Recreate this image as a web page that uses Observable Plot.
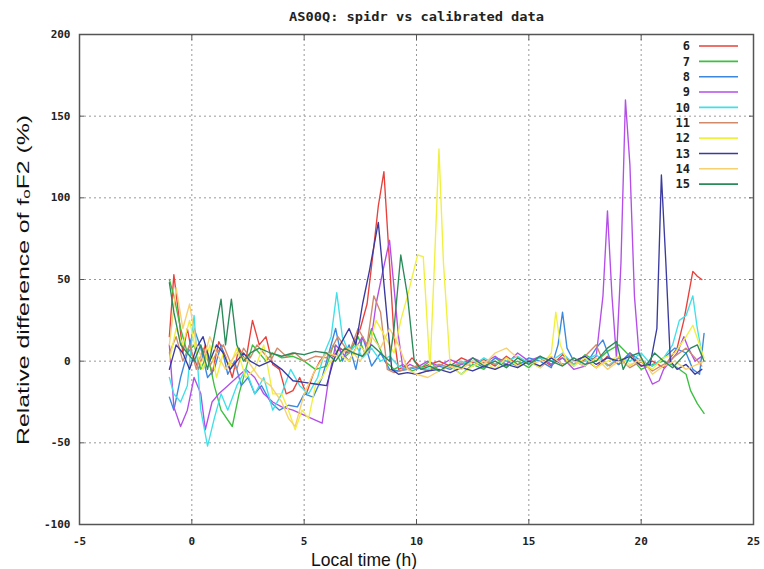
<!DOCTYPE html>
<html>
<head>
<meta charset="utf-8">
<script src="https://cdn.jsdelivr.net/npm/d3@7"></script>
<script src="https://cdn.jsdelivr.net/npm/@observablehq/plot@0.6"></script>
<style>
  html, body { margin: 0; padding: 0; background: #fff; }
  #chart svg { display: block; }
</style>
</head>
<body>
<div id="chart"></div>
<script>
const title = "AS00Q: spidr vs calibrated data";
const xLabel = "Local time (h)";
const yLabel = "Relative difference of fₒF2 (%)";
const xTicks = [-5, 0, 5, 10, 15, 20, 25];
const yTicks = [-100, -50, 0, 50, 100, 150, 200];
const xGrid = [0, 5, 10, 15, 20];
const yGrid = [-50, 0, 50, 100, 150];
const seriesNames = ["6", "7", "8", "9", "10", "11", "12", "13", "14", "15"];
const seriesColors = ["#e8403a", "#3cc040", "#3a88e0", "#b44ee8", "#40e0e8", "#d08a6a", "#f0f040", "#3a3aa0", "#f8d070", "#2a8a5a"];

// [local time, relative difference]
const s6 = [[-1.0,15],[-0.8,53],[-0.6,30],[-0.4,5],[-0.2,20],[0,5],[0.3,-5],[0.6,10],[0.9,-8],[1.2,12],[1.5,3],[1.8,-10],[2.1,8],[2.4,0],[2.7,25],[3.0,10],[3.3,15],[3.6,-2],[3.9,-5],[4.2,-20],[4.5,-18],[4.8,-10],[5.1,-20],[5.4,-8],[5.7,0],[6.0,5],[6.3,3],[6.6,8],[6.9,5],[7.2,10],[7.5,20],[7.8,35],[8.1,70],[8.3,95],[8.55,116],[8.8,60],[9.0,15],[9.2,-5],[9.5,-3],[9.8,2],[10.2,-4],[10.6,-2],[11,0],[11.5,-3],[12,2],[12.5,-1],[13,1],[13.5,-3],[14,3],[14.5,-2],[15,0],[15.5,2],[16,-3],[16.5,4],[17,-2],[17.5,1],[18,-4],[18.5,3],[19,-2],[19.5,5],[20,-3],[20.5,0],[21,-4],[21.3,2],[21.6,8],[21.9,25],[22.1,40],[22.3,55],[22.5,52],[22.7,50]];
const s7 = [[-1.0,50],[-0.8,40],[-0.5,20],[-0.2,5],[0.1,10],[0.4,-5],[0.7,5],[1.0,-15],[1.3,-30],[1.8,-40],[2.1,-20],[2.4,-5],[2.7,10],[3.0,5],[3.3,0],[3.6,5],[4,2],[4.5,3],[5,0],[5.5,-5],[6,-3],[6.3,10],[6.6,0],[7,5],[7.4,15],[7.7,5],[8,20],[8.3,10],[8.6,0],[9,-5],[9.4,-2],[9.8,-6],[10.2,-4],[10.6,0],[11,-6],[11.5,-3],[12,-8],[12.5,-2],[13,-5],[13.5,2],[14,-3],[14.5,0],[15,-4],[15.5,3],[16,-2],[16.5,2],[17,-3],[17.5,4],[18,0],[18.5,6],[19,10],[19.5,3],[20,-5],[20.5,-2],[21,0],[21.5,-3],[22,-8],[22.2,-18],[22.5,-26],[22.8,-32]];
const s8 = [[-1.0,-22],[-0.8,-30],[-0.5,-10],[-0.2,5],[0.1,20],[0.4,8],[0.7,-10],[1.0,-5],[1.3,10],[1.6,-8],[1.9,0],[2.2,-15],[2.5,-10],[2.8,-20],[3.1,-15],[3.5,-25],[3.9,-30],[4.3,-27],[4.7,-28],[5.0,-20],[5.4,-22],[5.8,-10],[6.1,5],[6.4,20],[6.7,0],[7.0,10],[7.3,-5],[7.6,15],[8.0,-3],[8.4,5],[8.8,-5],[9.2,-6],[9.6,-5],[10,-4],[10.5,-6],[11,-3],[11.5,-5],[12,-2],[12.5,0],[13,-4],[13.5,2],[14,0],[14.5,-3],[15,2],[15.5,0],[16,-4],[16.3,10],[16.5,30],[16.7,8],[17,0],[17.5,-3],[18,8],[18.3,13],[18.6,2],[19,-2],[19.5,5],[20,0],[20.5,-3],[21,2],[21.5,8],[22,5],[22.3,-5],[22.6,-8],[22.8,17]];
const s9 = [[-1.0,10],[-0.8,-28],[-0.5,-40],[-0.2,-30],[0.1,-10],[0.4,-20],[0.6,-42],[0.9,-25],[1.2,-20],[1.6,-15],[2.0,-10],[2.4,-5],[2.8,-10],[3.2,-20],[3.6,-25],[4.0,-28],[4.5,-30],[5.0,-33],[5.8,-38],[6.1,-10],[6.4,10],[6.7,5],[7.0,0],[7.3,8],[7.6,15],[7.9,5],[8.2,35],[8.5,55],[8.8,74],[9.0,45],[9.2,15],[9.4,-5],[9.7,-2],[10,-4],[10.5,0],[11,-3],[11.5,1],[12,-2],[12.5,2],[13,-1],[13.5,3],[14,-2],[14.5,5],[15,0],[15.5,3],[16,-2],[16.5,2],[17,-5],[17.5,-3],[18,3],[18.3,40],[18.5,92],[18.7,40],[18.9,2],[19.1,60],[19.3,160],[19.5,120],[19.7,40],[19.9,5],[20.2,-5],[20.5,-14],[20.8,-12],[21,-5],[21.3,0],[21.6,5],[21.9,15],[22.1,8],[22.4,0],[22.7,3]];
const s10 = [[-1.0,-10],[-0.8,-20],[-0.5,-25],[-0.2,-15],[0.1,28],[0.4,-30],[0.7,-52],[1.0,-35],[1.3,-20],[1.6,-30],[2.0,-15],[2.4,-5],[2.8,-20],[3.2,-10],[3.6,-30],[4.0,-20],[4.4,-5],[4.8,-15],[5.2,-20],[5.6,-10],[5.9,5],[6.2,15],[6.45,42],[6.7,15],[7.0,5],[7.3,10],[7.6,2],[8.0,8],[8.4,0],[8.8,3],[9.2,-3],[9.6,-5],[10,-3],[10.5,-5],[11,-2],[11.5,-4],[12,0],[12.5,-3],[13,2],[13.5,-2],[14,0],[14.5,3],[15,-1],[15.5,2],[16,0],[16.5,5],[17,-2],[17.5,0],[18,4],[18.5,-3],[19,2],[19.5,0],[20,5],[20.5,-3],[21,2],[21.4,10],[21.7,25],[22.0,28],[22.3,40],[22.5,20],[22.7,5]];
const s11 = [[-1.0,5],[-0.7,15],[-0.4,0],[-0.1,10],[0.2,-5],[0.5,8],[0.8,-3],[1.1,5],[1.4,10],[1.7,0],[2.0,-5],[2.3,8],[2.6,2],[2.9,10],[3.2,5],[3.5,0],[3.8,8],[4.2,3],[4.6,5],[5.0,0],[5.5,3],[6.0,2],[6.5,15],[7.0,5],[7.4,20],[7.8,10],[8.1,40],[8.4,30],[8.7,-5],[9.0,-7],[9.5,-5],[10,-3],[10.5,-6],[11,-2],[11.5,-4],[12,-1],[12.5,-3],[13,0],[13.5,-2],[14,2],[14.5,-3],[15,0],[15.5,-4],[16,2],[16.5,-2],[17,0],[17.5,3],[18,10],[18.3,0],[18.6,-3],[19,2],[19.5,-4],[20,0],[20.5,-6],[21,-2],[21.5,3],[22,8],[22.4,2],[22.7,-3]];
const s12 = [[-1.0,0],[-0.7,20],[-0.4,10],[-0.1,25],[0.2,5],[0.5,-5],[0.8,10],[1.1,-10],[1.4,5],[1.7,-3],[2.0,8],[2.4,-10],[2.8,-5],[3.2,10],[3.6,-20],[4.0,-20],[4.3,-30],[4.6,-42],[4.9,-30],[5.2,-35],[5.5,-15],[5.8,-10],[6.1,-2],[6.5,5],[7.0,0],[7.4,10],[7.8,5],[8.2,25],[8.6,15],[9.0,5],[9.3,25],[9.6,40],[10.05,65],[10.3,64],[10.6,-5],[10.8,60],[11.0,130],[11.2,60],[11.5,-3],[12,-8],[12.5,-3],[13,0],[13.5,-5],[14,2],[14.5,-3],[15,0],[15.5,-4],[16,5],[16.2,30],[16.4,10],[16.7,0],[17,-3],[17.5,2],[18,-4],[18.5,0],[19,3],[19.5,-2],[20,0],[20.5,-5],[21,2],[21.5,5],[22,15],[22.3,22],[22.6,10],[22.8,2]];
const s13 = [[-1.0,-5],[-0.7,10],[-0.4,5],[-0.1,-5],[0.2,8],[0.5,15],[0.8,0],[1.1,10],[1.4,5],[1.7,-5],[2.0,0],[2.3,5],[2.6,0],[3.0,-3],[3.5,0],[4.0,-5],[4.5,-12],[5.0,-13],[5.5,-14],[6.0,-15],[6.3,0],[6.6,10],[7.0,20],[7.3,10],[7.6,35],[7.9,55],[8.3,85],[8.6,40],[8.9,-5],[9.2,-8],[9.6,-7],[10,-8],[10.5,-6],[11,-5],[11.5,-7],[12,-4],[12.5,-6],[13,-3],[13.5,-5],[14,-2],[14.5,-4],[15,0],[15.5,-3],[16,2],[16.5,-2],[17,0],[17.5,3],[18,-2],[18.5,2],[19,0],[19.5,3],[20,-3],[20.4,-2],[20.7,20],[20.9,114],[21.1,60],[21.3,0],[21.6,-5],[22,-2],[22.4,-8],[22.7,-5]];
const s14 = [[-1.0,10],[-0.7,45],[-0.4,20],[-0.1,35],[0.2,10],[0.5,0],[0.8,15],[1.1,5],[1.5,-5],[2.0,5],[2.5,0],[3.0,-10],[3.5,-15],[4.0,-25],[4.3,-35],[4.6,-40],[5.0,-20],[5.5,-5],[6.0,5],[6.5,3],[7.0,8],[7.5,0],[8.0,15],[8.4,8],[8.8,20],[9.2,10],[9.6,-5],[10,-8],[10.5,-10],[11,-6],[11.5,-3],[12,-5],[12.5,0],[13,-2],[13.5,5],[14,8],[14.5,2],[15,-2],[15.5,0],[16,3],[16.5,-2],[17,0],[17.5,-3],[18,2],[18.5,-5],[19,0],[19.5,-3],[20,2],[20.5,-8],[21,-3],[21.5,0],[22,-5],[22.5,-2],[22.8,0]];
const s15 = [[-1.0,48],[-0.8,30],[-0.5,10],[-0.2,5],[0.1,0],[0.4,10],[0.7,-5],[1.0,15],[1.3,38],[1.5,10],[1.76,38],[2.0,10],[2.3,0],[2.6,5],[3.0,8],[3.5,5],[4.0,3],[4.5,5],[5.0,4],[5.5,6],[6.0,5],[6.4,0],[6.8,8],[7.2,5],[7.6,3],[8.0,10],[8.4,5],[8.8,0],[9.0,20],[9.3,65],[9.6,40],[9.9,0],[10.2,-5],[10.6,-3],[11,-6],[11.5,-2],[12,-4],[12.5,2],[13,-3],[13.5,0],[14,-4],[14.5,2],[15,-2],[15.5,3],[16,0],[16.5,-3],[17,2],[17.5,-2],[18,0],[18.5,8],[18.9,12],[19.2,-5],[19.5,3],[19.9,5],[20.2,-3],[20.6,5],[21,0],[21.4,-4],[21.8,2],[22.2,8],[22.5,10],[22.8,0]];

const allSeries = [s6, s7, s8, s9, s10, s11, s12, s13, s14, s15];
const data = allSeries.flatMap((arr, i) => arr.map(([t, v]) => ({s: seriesNames[i], t, v})));

const chart = Plot.plot({
  width: 764,
  height: 569,
  marginLeft: 79,
  marginRight: 11,
  marginTop: 34,
  marginBottom: 45,
  style: {fontFamily: "DejaVu Sans Mono", fontSize: "11px", fontWeight: "bold", color: "#222", background: "#fff"},
  x: {domain: [-5, 25], label: null},
  y: {domain: [-100, 200], label: null},
  color: {domain: seriesNames, range: seriesColors},
  marks: [
    Plot.ruleX(xGrid, {stroke: "#999", strokeDasharray: "2,3", strokeWidth: 1}),
    Plot.ruleY(yGrid, {stroke: "#999", strokeDasharray: "2,3", strokeWidth: 1}),
    Plot.axisX(xTicks, {anchor: "bottom", tickSize: 0, tickPadding: 13, tickFormat: d => String(d), fill: "#222"}),
    Plot.axisY(yTicks, {anchor: "left", tickSize: 0, tickPadding: 9, tickFormat: d => String(d), fill: "#222"}),
    Plot.axisX(xTicks, {anchor: "bottom", tickSize: -5, tickFormat: () => "", stroke: "#555"}),
    Plot.axisX(xTicks, {anchor: "top", tickSize: -5, tickFormat: () => "", stroke: "#555"}),
    Plot.axisY(yTicks, {anchor: "left", tickSize: -5, tickFormat: () => "", stroke: "#555"}),
    Plot.axisY(yTicks, {anchor: "right", tickSize: -5, tickFormat: () => "", stroke: "#555"}),
    Plot.line(data, {x: "t", y: "v", z: "s", stroke: "s", strokeWidth: 1.35}),
    Plot.frame({stroke: "#555", strokeWidth: 1.5}),
    Plot.text([title], {frameAnchor: "top", dy: -22, fontSize: 12, fontWeight: "bold", fontFamily: "DejaVu Sans Mono", fill: "#222"})
  ]
});
document.getElementById("chart").appendChild(chart);

const svg = d3.select(chart);
// stretch title to reference width
svg.selectAll("text").filter(function() { return this.textContent === title; })
  .attr("textLength", 255).attr("lengthAdjust", "spacingAndGlyphs");

// axis labels
svg.append("text")
  .attr("x", 364).attr("y", 566)
  .attr("text-anchor", "middle")
  .attr("font-family", "Liberation Sans, Arial, sans-serif")
  .attr("font-size", 19).attr("font-weight", "normal")
  .attr("fill", "#111")
  .attr("textLength", 106).attr("lengthAdjust", "spacingAndGlyphs")
  .text(xLabel);

svg.append("text")
  .attr("transform", "translate(29,280) rotate(-90) scale(1,0.78)")
  .attr("text-anchor", "middle")
  .attr("font-family", "Liberation Sans, Arial, sans-serif")
  .attr("font-size", 20).attr("font-weight", "normal")
  .attr("fill", "#111")
  .attr("textLength", 330).attr("lengthAdjust", "spacingAndGlyphs")
  .text(yLabel);

// legend
const lg = svg.append("g");
seriesNames.forEach((name, i) => {
  const y = 46 + i * 15.35;
  lg.append("text")
    .attr("x", 690).attr("y", y).attr("dy", "0.35em")
    .attr("text-anchor", "end")
    .attr("font-family", "DejaVu Sans Mono").attr("font-weight", "bold").attr("font-size", 12)
    .attr("fill", "#222")
    .text(name);
  lg.append("line")
    .attr("x1", 699).attr("x2", 738).attr("y1", y).attr("y2", y)
    .attr("stroke", seriesColors[i]).attr("stroke-width", 1.6);
});
</script>
</body>
</html>
